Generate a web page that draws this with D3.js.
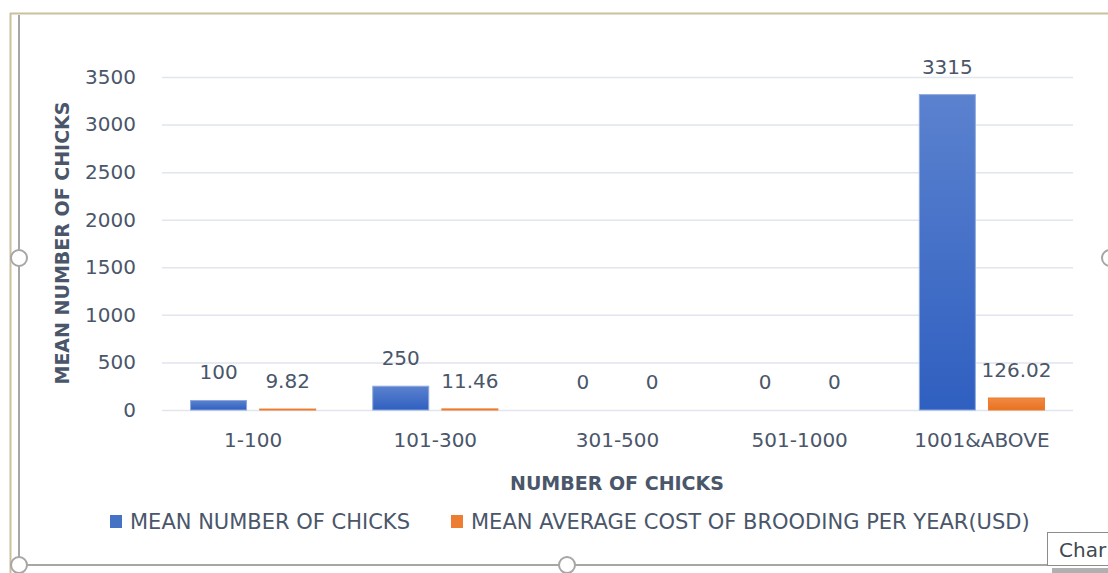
<!DOCTYPE html>
<html>
<head>
<meta charset="utf-8">
<script src="https://cdn.jsdelivr.net/npm/d3@7"></script>
<style>
  body { margin: 0; background: #fff; }
  svg { display: block; font-family: "DejaVu Sans", sans-serif; }
</style>
</head>
<body>
<script>
const categories = ["1-100", "101-300", "301-500", "501-1000", "1001&ABOVE"];
const meanChicks = [100, 250, 0, 0, 3315];
const meanCost = [9.82, 11.46, 0, 0, 126.02];
const yTicks = [0, 500, 1000, 1500, 2000, 2500, 3000, 3500];
const seriesNames = ["MEAN NUMBER OF CHICKS", "MEAN AVERAGE COST OF BROODING PER YEAR(USD)"];
const seriesValues = [meanChicks, meanCost];

const width = 1108, height = 573;
const plot = { left: 162, right: 1073, top: 77, bottom: 410 };
const textColor = '#4a566a';

const svg = d3.select('body').append('svg')
  .attr('width', width)
  .attr('height', height);

// gradients for the bars
const defs = svg.append('defs');
const grads = [['gBlue', '#5b82cf', '#2f5fc0'], ['gOrange', '#f08a45', '#e8711f']];
grads.forEach(g => {
  const lg = defs.append('linearGradient').attr('id', g[0])
    .attr('x1', 0).attr('y1', 0).attr('x2', 0).attr('y2', 1);
  lg.append('stop').attr('offset', '0%').attr('stop-color', g[1]);
  lg.append('stop').attr('offset', '100%').attr('stop-color', g[2]);
});
const fills = ['url(#gBlue)', 'url(#gOrange)'];
const edges = ['#8fa9dc', '#ee7a2c'];
const legendFills = ['#4472c4', '#ed7d31'];

// frame of the chart object
svg.append('line').attr('x1', 10).attr('x2', width).attr('y1', 13.5).attr('y2', 13.5)
  .attr('stroke', '#c9c19c').attr('stroke-width', 2);
svg.append('line').attr('x1', 10.5).attr('x2', 10.5).attr('y1', 13).attr('y2', height)
  .attr('stroke', '#c9c19c').attr('stroke-width', 2);
svg.append('line').attr('x1', 19).attr('x2', 19).attr('y1', 15).attr('y2', 565)
  .attr('stroke', '#a6a6a6').attr('stroke-width', 2);
svg.append('line').attr('x1', 19).attr('x2', 1070).attr('y1', 565).attr('y2', 565)
  .attr('stroke', '#a6a6a6').attr('stroke-width', 2);

const yScale = d3.scaleLinear()
  .domain([0, 3500])
  .range([plot.bottom, plot.top]);

const x0 = d3.scaleBand()
  .domain(categories)
  .range([plot.left, plot.right]);

const x1 = d3.scaleBand()
  .domain([0, 1])
  .range([0, x0.bandwidth()])
  .paddingInner(0.19)
  .paddingOuter(0.413);

// gridlines + y labels
const yAxis = d3.axisLeft(yScale)
  .tickValues(yTicks)
  .tickFormat(d3.format('d'))
  .tickSize(-(plot.right - plot.left))
  .tickPadding(26);

svg.append('g')
  .attr('transform', `translate(${plot.left},0)`)
  .call(yAxis)
  .call(g => g.select('.domain').remove())
  .call(g => g.selectAll('.tick line').attr('stroke', '#e1e5ee').attr('stroke-width', 1.5))
  .call(g => g.selectAll('.tick text').attr('fill', textColor)
    .style('font-size', '20px').style('font-family', '"DejaVu Sans", sans-serif'));

// x labels
const xAxis = d3.axisBottom(x0).tickSize(0).tickPadding(23);
svg.append('g')
  .attr('transform', `translate(0,${plot.bottom})`)
  .call(xAxis)
  .call(g => g.select('.domain').remove())
  .call(g => g.selectAll('.tick text').attr('fill', textColor)
    .style('font-size', '20px').style('font-family', '"DejaVu Sans", sans-serif'));

// bars
const groups = svg.selectAll('.cat')
  .data(categories)
  .enter().append('g')
  .attr('class', 'cat')
  .attr('transform', d => `translate(${x0(d)},0)`);

seriesValues.forEach((vals, s) => {
  groups.append('rect')
    .attr('x', x1(s))
    .attr('width', x1.bandwidth())
    .attr('y', (d, i) => yScale(vals[i]))
    .attr('height', (d, i) => plot.bottom - yScale(vals[i]))
    .attr('fill', fills[s])
    .attr('stroke', (d, i) => vals[i] > 0 ? edges[s] : 'none')
    .attr('stroke-width', 1);

  groups.append('text')
    .attr('x', x1(s) + x1.bandwidth() / 2)
    .attr('y', (d, i) => yScale(vals[i]) - 21)
    .attr('text-anchor', 'middle')
    .attr('fill', textColor)
    .style('font-size', '20px')
    .text((d, i) => vals[i]);
});

// axis titles
svg.append('text')
  .text('NUMBER OF CHICKS')
  .attr('x', 617).attr('y', 490)
  .attr('text-anchor', 'middle')
  .attr('fill', textColor)
  .style('font-size', '19px').style('font-weight', 'bold');

svg.append('text')
  .text('MEAN NUMBER OF CHICKS')
  .attr('transform', `translate(69,243)rotate(-90)`)
  .attr('text-anchor', 'middle')
  .attr('fill', textColor)
  .style('font-size', '19px').style('font-weight', 'bold');

// legend
const legendX = [110, 451];
seriesNames.forEach((name, i) => {
  svg.append('rect')
    .attr('x', legendX[i]).attr('y', 515)
    .attr('width', 12).attr('height', 13)
    .attr('fill', legendFills[i]);
  svg.append('text')
    .attr('x', legendX[i] + 20).attr('y', 529)
    .attr('fill', textColor)
    .style('font-size', '21px')
    .text(name);
});

// selection handles
[[19, 258], [19, 565], [567, 565], [1110, 258]].forEach(p => {
  svg.append('circle').attr('cx', p[0]).attr('cy', p[1]).attr('r', 8)
    .attr('fill', '#fff').attr('stroke', '#a6a6a6').attr('stroke-width', 2);
});

// tooltip fragment
svg.append('rect').attr('x', 1052).attr('y', 568).attr('width', 60).attr('height', 5)
  .attr('fill', '#b0b0b0');
svg.append('rect').attr('x', 1047.5).attr('y', 532.5).attr('width', 70).attr('height', 33)
  .attr('fill', '#fff').attr('stroke', '#8c8c8c');
svg.append('text').attr('x', 1059).attr('y', 557)
  .attr('fill', '#404850')
  .style('font-size', '20px')
  .text('Char');
</script>
</body>
</html>
